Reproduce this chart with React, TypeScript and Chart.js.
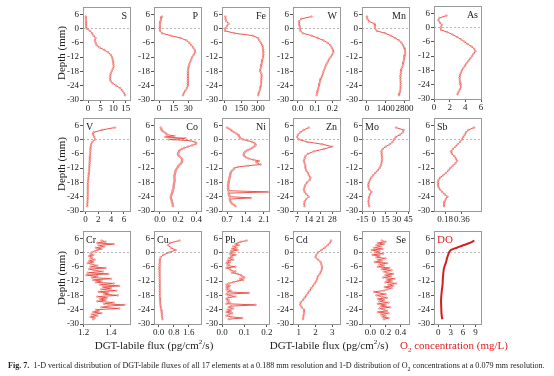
import React, { useEffect, useRef } from "react";
import { Chart, registerables } from "chart.js";
Chart.register(...registerables);

const FONT = "'Liberation Serif', 'Times New Roman', serif";

// Depth axis (mm)
const DEPTH = [5, 4, 3, 2, 1, 0, -1, -2, -3, -4,
  -5, -6, -7, -8, -9, -10, -11, -12, -13, -14,
  -15, -16, -17, -18, -19, -20, -21, -22, -23, -24,
  -25, -26, -27, -28];
const DEPTH_FINE = [5, 4.5, 4, 3.5, 3, 2.5, 2, 1.5, 1, 0.5,
  0, -0.5, -1, -1.5, -2, -2.5, -3, -3.5, -4, -4.5,
  -5, -5.5, -6, -6.5, -7, -7.5, -8, -8.5, -9, -9.5,
  -10, -10.5, -11, -11.5, -12, -12.5, -13, -13.5, -14, -14.5,
  -15, -15.5, -16, -16.5, -17, -17.5, -18, -18.5, -19, -19.5,
  -20, -20.5, -21, -21.5, -22, -22.5, -23, -23.5, -24, -24.5,
  -25, -25.5, -26, -26.5, -27, -27.5, -28];
const DEPTH_TICKS = [6, 0, -6, -12, -18, -24, -30];

// Series values (DEPTH order)
const S = [-0.9, -0.9, -0.8, -0.8, -0.7, -0.5, 0.8, 1.6, 2.2, 3.0,
  2.7, 3.0, 3.4, 4.6, 6.5, 8.0, 9.0, 9.5, 9.8, 10.0,
  10.1, 10.2, 9.8, 9.4, 9.0, 8.9, 8.8, 9.0, 9.8, 11.3,
  12.8, 13.6, 14.2, 14.7];
const P = [3, 2, 1.5, 1, 0.8, 0.8, 1, 3, 12, 22,
  28, 31, 33, 35, 36.5, 37, 35.5, 34, 33, 32,
  31, 30.5, 30, 29.5, 29.5, 29.5, 29.5, 29.5, 29.5, 29.5,
  28.5, 27, 25.5, 24.5];
const FE = [6, 8, 15, 36, 20, 5, 3, 90, 255, 300,
  313, 326, 338, 343, 348, 351, 350, 347, 342, 337,
  333, 328, 323, 321, 332, 336, 332, 330, 329, 327,
  322, 316, 308, 304];
const W = [0.08, 0.02, 0.008, 0.008, 0.012, 0.014, 0.016, 0.03, 0.08, 0.115,
  0.148, 0.172, 0.188, 0.196, 0.204, 0.206, 0.199, 0.19, 0.18, 0.173,
  0.166, 0.16, 0.155, 0.149, 0.145, 0.14, 0.134, 0.13, 0.126, 0.123,
  0.119, 0.116, 0.113, 0.109];
const MN = [0, 40, 150, 540, 600, 610, 730, 1350, 1780, 2100,
  2380, 2570, 2680, 2760, 2820, 2855, 2830, 2790, 2760, 2720,
  2690, 2640, 2570, 2540, 2510, 2490, 2490, 2500, 2510, 2505,
  2495, 2480, 2440, 2390];
const AS = [1.6, 0.7, 0.56, 0.77, 0.99, 0.85, 0.9, 1.7, 2.4, 2.95,
  3.45, 3.9, 4.3, 4.8, 5.15, 5.3, 5.05, 4.85, 4.63, 4.4,
  4.15, 3.95, 3.75, 3.55, 3.42, 3.3, 3.25, 3.28, 3.32, 3.38,
  3.43, 3.3, 3.13, 3.0];
const V = [4.6, 2.6, 1.3, 1.2, 1.4, 1.5, 1.1, 0.9, 0.85, 0.8,
  0.78, 0.75, 0.72, 0.7, 0.68, 0.65, 0.62, 0.6, 0.57, 0.55,
  0.52, 0.48, 0.42, 0.38, 0.37, 0.37, 0.37, 0.37, 0.36, 0.35,
  0.33, 0.31, 0.29, 0.27];
const ZN = [14, 11, 9, 7.6, 7.1, 8, 13, 22, 28, 23,
  17, 13.5, 12, 11.5, 11, 11.5, 12, 12, 12.5, 13.5,
  14, 15, 14.5, 13, 12, 11.5, 11, 11.5, 12.5, 14,
  12.5, 11.5, 11.3, 11.5];
const MO = [29, 39, 38, 34, 28.5, 26.5, 24.5, 21, 15.5, 11.5,
  9.8, 10, 10.5, 11, 10.5, 10, 9, 7.5, 5, 2,
  -1, -3.5, -5.2, -6.5, -7.2, -7, -6, -3, -5, -6.2,
  -6.8, -7.2, -6.8, -6];
const SB = [0.49, 0.43, 0.405, 0.39, 0.375, 0.36, 0.34, 0.315, 0.29, 0.262,
  0.243, 0.25, 0.28, 0.295, 0.306, 0.29, 0.262, 0.235, 0.215, 0.19,
  0.16, 0.125, 0.108, 0.105, 0.105, 0.11, 0.125, 0.148, 0.175, 0.205,
  0.185, 0.175, 0.17, 0.168];
const CU = [1.1, 0.6, 0.5, 0.65, 0.9, 0.55, 0.25, 0.1, 0.06, 0.05,
  0.04, 0.03, 0.03, 0.03, 0.04, 0.04, 0.05, 0.05, 0.05, 0.05,
  0.06, 0.06, 0.06, 0.06, 0.07, 0.07, 0.08, 0.1, 0.12, 0.13,
  0.15, 0.17, 0.18, 0.2];
const CD = [2.92, 2.85, 2.72, 2.55, 2.35, 2.15, 2.05, 2.0, 2.15, 2.3,
  2.35, 2.4, 2.38, 2.32, 2.25, 2.15, 2.1, 2.05, 1.95, 1.85,
  1.75, 1.65, 1.55, 1.45, 1.35, 1.25, 1.12, 1.1, 1.18, 1.32,
  1.33, 1.3, 1.28, 1.25];
const DO = [8.7, 7.6, 6.0, 4.5, 3.0, 2.6, 2.4, 2.2, 2.05, 1.9,
  1.7, 1.5, 1.35, 1.28, 1.22, 1.17, 1.12, 1.1, 1.08, 1.02,
  0.95, 0.88, 0.82, 0.77, 0.72, 0.7, 0.7, 0.72, 0.74, 0.76,
  0.78, 0.82, 0.9, 1.0];

// Series values (DEPTH_FINE order)
const CO = [0.01, 0.015, 0.02, 0.03, 0.05, 0.07, 0.08, 0.16, 0.06, 0.28,
  0.10, 0.33, 0.38, 0.40, 0.39, 0.35, 0.31, 0.27, 0.24, 0.22,
  0.21, 0.205, 0.20, 0.20, 0.21, 0.225, 0.24, 0.245, 0.245, 0.24,
  0.235, 0.22, 0.205, 0.20, 0.19, 0.18, 0.175, 0.17, 0.17, 0.165,
  0.16, 0.16, 0.16, 0.16, 0.165, 0.16, 0.16, 0.155, 0.155, 0.15,
  0.15, 0.15, 0.145, 0.14, 0.14, 0.135, 0.13, 0.125, 0.12, 0.12,
  0.125, 0.13, 0.13, 0.135, 0.14, 0.14, 0.145];
const NI = [0.7, 0.78, 0.85, 0.9, 0.97, 1.05, 1.12, 1.15, 1.18, 1.2,
  1.3, 1.5, 1.65, 1.74, 1.78, 1.78, 1.72, 1.66, 1.58, 1.48,
  1.4, 1.36, 1.34, 1.33, 1.36, 1.42, 1.52, 1.7, 1.91, 1.8,
  1.86, 1.97, 1.5, 1.12, 0.98, 0.95, 0.9, 0.86, 0.84, 0.83,
  0.82, 0.81, 0.8, 0.79, 0.78, 0.77, 0.76, 0.75, 0.74, 0.74,
  0.75, 0.74, 0.76, 0.75, 2.25, 0.76, 0.77, 0.78, 0.8, 1.6,
  0.8, 0.82, 0.83, 0.86, 0.9, 0.97, 1.02];
const CR = [1.33, 1.36, 1.30, 1.42, 1.31, 1.35, 1.29, 1.33, 1.30, 1.28,
  1.26, 1.25, 1.27, 1.24, 1.26, 1.25, 1.28, 1.24, 1.27, 1.23,
  1.26, 1.30, 1.25, 1.36, 1.24, 1.28, 1.34, 1.23, 1.38, 1.22,
  1.30, 1.26, 1.40, 1.27, 1.33, 1.29, 1.42, 1.32, 1.46, 1.34,
  1.40, 1.33, 1.44, 1.31, 1.38, 1.35, 1.45, 1.30, 1.37, 1.32,
  1.36, 1.30, 1.42, 1.35, 1.50, 1.38, 1.33, 1.46, 1.29, 1.31,
  1.27, 1.33, 1.26, 1.30, 1.25, 1.28, 1.27];
const PB = [0.11, 0.085, 0.07, 0.06, 0.075, 0.05, 0.065, 0.045, 0.07, 0.04,
  0.05, 0.035, 0.06, 0.04, 0.045, 0.03, 0.05, 0.025, 0.035, 0.02,
  0.03, 0.025, 0.06, 0.02, 0.035, 0.04, 0.06, 0.045, 0.07, 0.085,
  0.09, 0.1, 0.08, 0.095, 0.07, 0.05, 0.03, 0.02, 0.035, 0.02,
  0.03, 0.02, 0.04, 0.025, 0.12, 0.02, 0.03, 0.06, 0.025, 0.02,
  0.03, 0.025, 0.035, 0.02, 0.15, 0.04, 0.03, 0.05, 0.025, 0.04,
  0.02, 0.045, 0.03, 0.02, 0.04, 0.09, 0.03];
const SE = [0.15, 0.2, 0.1, 0.18, 0.08, 0.14, 0.05, 0.16, 0.02, 0.12,
  0.06, 0.17, 0.03, 0.12, 0.08, 0.2, 0.1, 0.15, 0.06, 0.22,
  0.12, 0.18, 0.1, 0.25, 0.15, 0.28, 0.18, 0.22, 0.3, 0.2,
  0.27, 0.17, 0.32, 0.22, 0.28, 0.2, 0.34, 0.24, 0.3, 0.19,
  0.28, 0.22, 0.18, 0.05, 0.12, 0.2, 0.08, 0.15, 0.22, 0.1,
  0.18, 0.12, 0.24, 0.1, 0.2, 0.14, 0.26, 0.12, 0.18, 0.22,
  0.1, 0.24, 0.14, 0.2, 0.16, 0.24, 0.18];

// Tick labels for the value axes
const S_TICKS = ["0", "5", "10", "15"];
const P_TICKS = ["0", "15", "30"];
const FE_TICKS = ["0", "150", "300"];
const W_TICKS = ["0.0", "0.1", "0.2"];
const MN_TICKS = ["0", "1400", "2800"];
const AS_TICKS = ["0", "2", "4", "6"];
const V_TICKS = ["0", "2", "4", "6"];
const CO_TICKS = ["0.0", "0.2", "0.4"];
const NI_TICKS = ["0.7", "1.4", "2.1"];
const ZN_TICKS = ["7", "14", "21", "28"];
const MO_TICKS = ["-15", "0", "15", "30", "45"];
const SB_TICKS = ["0.18", "0.36"];
const CR_TICKS = ["1.2", "1.4"];
const CU_TICKS = ["0.0", "0.8", "1.6"];
const PB_TICKS = ["0.0", "0.1", "0.2"];
const CD_TICKS = ["1", "2", "3"];
const SE_TICKS = ["0.0", "0.2", "0.4"];
const DO_TICKS = ["0", "3", "6", "9"];

const RED = "#e8443c";
const DORED = "#d41e1e";

// layout constants
const YW = 25, PT = 8, PR = 14, XH = 16, PW = 47, PH = 93;
const COLS = [83, 154, 222, 293, 362, 434];
const ROWS = [7, 118, 231];

type Cfg = {
  name: string; col: number; row: number; dy?: number;
  depths: number[]; values: number[]; min: number; max: number;
  ticks: string[]; align: "left" | "right"; isDO?: boolean;
};

const PANELS: Cfg[] = [
  { name: "S", col: 0, row: 0, depths: DEPTH, values: S, min: -2, max: 16.7, ticks: S_TICKS, align: "right" },
  { name: "P", col: 1, row: 0, depths: DEPTH, values: P, min: -5.2, max: 43, ticks: P_TICKS, align: "right" },
  { name: "Fe", col: 2, row: 0, depths: DEPTH, values: FE, min: -24, max: 400, ticks: FE_TICKS, align: "right" },
  { name: "W", col: 3, row: 0, depths: DEPTH, values: W, min: -0.027, max: 0.244, ticks: W_TICKS, align: "right" },
  { name: "Mn", col: 4, row: 0, depths: DEPTH, values: MN, min: -365, max: 3130, ticks: MN_TICKS, align: "right" },
  { name: "As", col: 5, row: 0, dy: -1, depths: DEPTH, values: AS, min: 0, max: 6, ticks: AS_TICKS, align: "right" },
  { name: "V", col: 0, row: 1, depths: DEPTH, values: V, min: -0.37, max: 6.95, ticks: V_TICKS, align: "left" },
  { name: "Co", col: 1, row: 1, depths: DEPTH_FINE, values: CO, min: -0.063, max: 0.45, ticks: CO_TICKS, align: "right" },
  { name: "Ni", col: 2, row: 1, depths: DEPTH_FINE, values: NI, min: 0.51, max: 2.29, ticks: NI_TICKS, align: "right" },
  { name: "Zn", col: 3, row: 1, depths: DEPTH, values: ZN, min: 4.6, max: 32.6, ticks: ZN_TICKS, align: "right" },
  { name: "Mo", col: 4, row: 1, depths: DEPTH, values: MO, min: -15.5, max: 46, ticks: MO_TICKS, align: "left" },
  { name: "Sb", col: 5, row: 1, depths: DEPTH, values: SB, min: 0.06, max: 0.565, ticks: SB_TICKS, align: "left" },
  { name: "Cr", col: 0, row: 2, depths: DEPTH_FINE, values: CR, min: 1.195, max: 1.54, ticks: CR_TICKS, align: "left" },
  { name: "Cu", col: 1, row: 2, depths: DEPTH, values: CU, min: -0.25, max: 2.24, ticks: CU_TICKS, align: "left" },
  { name: "Pb", col: 2, row: 2, depths: DEPTH_FINE, values: PB, min: 0, max: 0.21, ticks: PB_TICKS, align: "left" },
  { name: "Cd", col: 3, row: 2, depths: DEPTH, values: CD, min: 0.66, max: 3.46, ticks: CD_TICKS, align: "left" },
  { name: "Se", col: 4, row: 2, depths: DEPTH_FINE, values: SE, min: -0.11, max: 0.51, ticks: SE_TICKS, align: "right" },
  { name: "DO", col: 5, row: 2, depths: DEPTH, values: DO, min: -1.0, max: 10.3, ticks: DO_TICKS, align: "left", isDO: true },
];

const framePlugin = {
  id: "frame",
  beforeDatasetsDraw(chart: any) {
    const { ctx, chartArea: a, scales } = chart;
    const y0 = Math.round(scales.y.getPixelForValue(0)) + 0.5;
    ctx.save();
    ctx.strokeStyle = "#a8a8a8";
    ctx.lineWidth = 0.8;
    ctx.setLineDash([2, 2]);
    ctx.beginPath();
    ctx.moveTo(a.left, y0);
    ctx.lineTo(a.right, y0);
    ctx.stroke();
    ctx.restore();
  },
  afterDraw(chart: any, _args: any, opts: any) {
    const { ctx, chartArea: a } = chart;
    ctx.save();
    ctx.strokeStyle = "#9a9a9a";
    ctx.lineWidth = 1;
    ctx.strokeRect(Math.round(a.left) + 0.5, Math.round(a.top) + 0.5, Math.round(a.right - a.left), Math.round(a.bottom - a.top));
    ctx.fillStyle = opts.color || "#222";
    ctx.font = `${opts.size || 10}px ${FONT}`;
    ctx.textBaseline = "alphabetic";
    if (opts.align === "right") {
      ctx.textAlign = "right";
      ctx.fillText(opts.label, a.right - 3, a.top + 12);
    } else {
      ctx.textAlign = "left";
      ctx.fillText(opts.label, a.left + 3, a.top + 12);
    }
    ctx.restore();
  },
};

function Panel({ cfg }: { cfg: Cfg }) {
  const ref = useRef<HTMLCanvasElement>(null);
  const cw = YW + PW + PR;
  const ch = PT + PH + XH;
  useEffect(() => {
    const tickVals = cfg.ticks.map((t) => parseFloat(t));
    const pts = cfg.depths.map((d, i) => ({ x: cfg.values[i], y: d }));
    const tickFont = { family: FONT, size: 9 };
    const chart = new Chart(ref.current as HTMLCanvasElement, {
      type: "scatter",
      data: {
        datasets: [
          cfg.isDO
            ? { data: pts, showLine: true, borderColor: DORED, borderWidth: 2, pointRadius: 0, tension: 0.3 }
            : {
                data: pts, showLine: true, borderColor: RED, borderWidth: 0.9,
                pointRadius: 0.9, pointBackgroundColor: "#f7c0bc", pointBorderColor: "#ee6a62", pointBorderWidth: 0.5,
              },
        ] as any,
      },
      options: {
        responsive: false,
        animation: false,
        devicePixelRatio: 1,
        layout: { padding: { left: 0, right: PR, top: PT, bottom: 0 } },
        plugins: {
          legend: { display: false },
          tooltip: { enabled: false },
          frame: { label: cfg.name, align: cfg.align, color: cfg.isDO ? "#e02020" : "#222", size: cfg.isDO ? 11 : 10 },
        } as any,
        scales: {
          x: {
            type: "linear", position: "bottom", min: cfg.min, max: cfg.max,
            afterBuildTicks: (ax: any) => { ax.ticks = tickVals.map((v) => ({ value: v })); },
            afterFit: (s: any) => { s.height = XH; },
            ticks: { autoSkip: false, maxRotation: 0, minRotation: 0, padding: 0, font: tickFont, color: "#222",
              callback: (_v: any, i: number) => cfg.ticks[i] },
            grid: { display: true, drawOnChartArea: false, drawTicks: true, tickLength: 3, color: "#555" },
            border: { display: false },
          },
          y: {
            type: "linear", min: -30, max: 9,
            afterBuildTicks: (ax: any) => { ax.ticks = DEPTH_TICKS.map((v) => ({ value: v })); },
            afterFit: (s: any) => { s.width = YW; },
            ticks: { autoSkip: false, padding: 1, font: tickFont, color: "#222",
              callback: (_v: any, i: number) => String(DEPTH_TICKS[i]) },
            grid: { display: true, drawOnChartArea: false, drawTicks: true, tickLength: 3, color: "#555" },
            border: { display: false },
          },
        },
      } as any,
      plugins: [framePlugin as any],
    });
    return () => chart.destroy();
  }, []);
  const left = COLS[cfg.col] - YW;
  const top = ROWS[cfg.row] + (cfg.dy || 0) - PT;
  return (
    <canvas ref={ref} width={cw} height={ch}
      style={{ position: "absolute", left, top, width: cw, height: ch }} />
  );
}

const textBase: React.CSSProperties = { position: "absolute", fontFamily: FONT, whiteSpace: "nowrap", color: "#222" };

export default function App() {
  const depthY = [53, 164, 278];
  return (
    <div style={{ position: "fixed", left: 0, top: 0, width: 554, height: 376, background: "#fff", overflow: "hidden" }}>
      {PANELS.map((p) => <Panel key={p.name} cfg={p} />)}
      {depthY.map((y, i) => (
        <div key={i} style={{ ...textBase, left: 61, top: y, fontSize: 11, transform: "translate(-50%,-50%) rotate(-90deg)" }}>
          Depth (mm)
        </div>
      ))}
      <div style={{ ...textBase, left: 154, top: 345, fontSize: 11, transform: "translate(-50%,-50%)" }}>
        DGT-labile flux (pg/cm<sup style={{ fontSize: 7, lineHeight: 0 }}>2</sup>/s)
      </div>
      <div style={{ ...textBase, left: 329, top: 345, fontSize: 11, transform: "translate(-50%,-50%)" }}>
        DGT-labile flux (pg/cm<sup style={{ fontSize: 7, lineHeight: 0 }}>2</sup>/s)
      </div>
      <div style={{ ...textBase, left: 454, top: 345, fontSize: 11, color: "#e02020", transform: "translate(-50%,-50%)" }}>
        O<sub style={{ fontSize: 7, lineHeight: 0 }}>2</sub> concentration (mg/L)
      </div>
      <div style={{ ...textBase, left: 8, top: 361, fontSize: 8.1 }}>
        <b>Fig. 7.</b>&nbsp; 1-D vertical distribution of DGT-labile fluxes of all 17 elements at a 0.188 mm resolution and 1-D distribution of O<sub style={{ fontSize: 6, lineHeight: 0 }}>2</sub> concentrations at a 0.079 mm resolution.
      </div>
    </div>
  );
}
